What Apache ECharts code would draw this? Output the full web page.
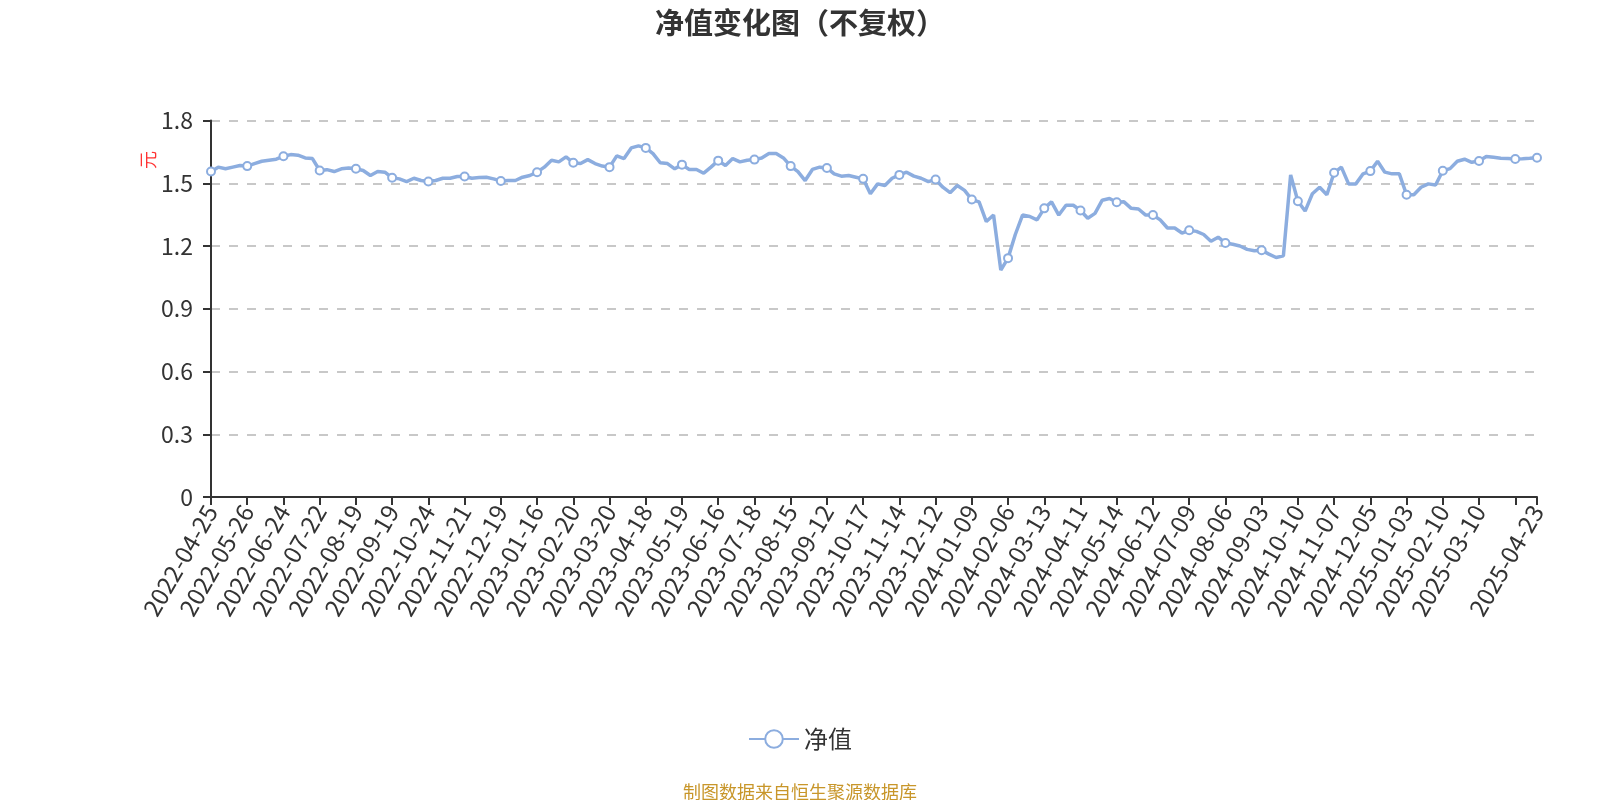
<!DOCTYPE html>
<html>
<head>
<meta charset="utf-8">
<script src="https://cdn.jsdelivr.net/npm/echarts@6/dist/echarts.min.js"></script>
<style>
html,body{margin:0;padding:0;background:#fff;}
#chart{width:1600px;height:800px;}
</style>
</head>
<body>
<div id="chart"></div>
<script>
const titleText = '净值变化图（不复权）';
const sourceText = '制图数据来自恒生聚源数据库';
const seriesName = '净值';
const yUnit = '元';

const dates = [
 '2022-04-25','2022-04-29','2022-05-10','2022-05-16','2022-05-20',
 '2022-05-26','2022-06-01','2022-06-09','2022-06-15','2022-06-20',
 '2022-06-24','2022-06-30','2022-07-06','2022-07-12','2022-07-18',
 '2022-07-22','2022-07-28','2022-08-03','2022-08-09','2022-08-15',
 '2022-08-19','2022-08-25','2022-08-31','2022-09-06','2022-09-13',
 '2022-09-19','2022-09-23','2022-09-29','2022-10-13','2022-10-18',
 '2022-10-24','2022-10-28','2022-11-03','2022-11-09','2022-11-15',
 '2022-11-21','2022-11-25','2022-12-01','2022-12-07','2022-12-13',
 '2022-12-19','2022-12-23','2022-12-29','2023-01-05','2023-01-11',
 '2023-01-16','2023-01-20','2023-02-02','2023-02-08','2023-02-14',
 '2023-02-20','2023-02-24','2023-03-02','2023-03-08','2023-03-14',
 '2023-03-20','2023-03-24','2023-03-30','2023-04-06','2023-04-12',
 '2023-04-18','2023-04-24','2023-04-28','2023-05-09','2023-05-15',
 '2023-05-19','2023-05-25','2023-05-31','2023-06-06','2023-06-12',
 '2023-06-16','2023-06-26','2023-06-30','2023-07-06','2023-07-12',
 '2023-07-18','2023-07-24','2023-07-28','2023-08-03','2023-08-09',
 '2023-08-15','2023-08-21','2023-08-25','2023-08-31','2023-09-06',
 '2023-09-12','2023-09-18','2023-09-22','2023-10-09','2023-10-13',
 '2023-10-17','2023-10-23','2023-10-27','2023-11-02','2023-11-08',
 '2023-11-14','2023-11-20','2023-11-24','2023-11-30','2023-12-06',
 '2023-12-12','2023-12-18','2023-12-22','2023-12-28','2024-01-04',
 '2024-01-09','2024-01-15','2024-01-19','2024-01-29','2024-02-05',
 '2024-02-06','2024-02-19','2024-02-23','2024-02-29','2024-03-06',
 '2024-03-13','2024-03-19','2024-03-25','2024-03-29','2024-04-08',
 '2024-04-11','2024-04-17','2024-04-23','2024-04-29','2024-05-08',
 '2024-05-14','2024-05-20','2024-05-24','2024-05-30','2024-06-05',
 '2024-06-12','2024-06-18','2024-06-24','2024-06-28','2024-07-04',
 '2024-07-09','2024-07-15','2024-07-19','2024-07-25','2024-07-31',
 '2024-08-06','2024-08-12','2024-08-16','2024-08-22','2024-08-28',
 '2024-09-03','2024-09-09','2024-09-13','2024-09-24','2024-10-08',
 '2024-10-10','2024-10-16','2024-10-22','2024-10-28','2024-11-01',
 '2024-11-07','2024-11-13','2024-11-19','2024-11-25','2024-11-29',
 '2024-12-05','2024-12-11','2024-12-17','2024-12-23','2024-12-27',
 '2025-01-03','2025-01-09','2025-01-15','2025-01-21','2025-01-27',
 '2025-02-10','2025-02-14','2025-02-20','2025-02-26','2025-03-04',
 '2025-03-10','2025-03-14','2025-03-20','2025-03-26','2025-04-01',
 '2025-04-08','2025-04-14','2025-04-18','2025-04-23'
];

const navValues = [
 1.556,1.577,1.569,1.577,1.585,
 1.582,1.594,1.605,1.610,1.615,
 1.629,1.637,1.634,1.621,1.618,
 1.561,1.565,1.556,1.569,1.573,
 1.569,1.561,1.537,1.556,1.553,
 1.526,1.521,1.508,1.524,1.513,
 1.508,1.513,1.524,1.524,1.532,
 1.532,1.524,1.527,1.529,1.521,
 1.511,1.513,1.513,1.529,1.537,
 1.553,1.577,1.610,1.602,1.626,
 1.598,1.594,1.613,1.594,1.582,
 1.577,1.631,1.618,1.669,1.679,
 1.669,1.642,1.598,1.594,1.569,
 1.589,1.566,1.566,1.548,1.577,
 1.608,1.585,1.618,1.602,1.610,
 1.613,1.621,1.642,1.642,1.621,
 1.582,1.556,1.513,1.566,1.577,
 1.573,1.545,1.534,1.537,1.529,
 1.521,1.450,1.497,1.489,1.524,
 1.540,1.553,1.534,1.524,1.508,
 1.518,1.481,1.455,1.489,1.466,
 1.422,1.411,1.317,1.348,1.085,
 1.142,1.255,1.348,1.341,1.325,
 1.380,1.411,1.348,1.395,1.395,
 1.370,1.333,1.356,1.419,1.427,
 1.409,1.411,1.380,1.377,1.348,
 1.348,1.325,1.286,1.286,1.262,
 1.275,1.270,1.255,1.223,1.242,
 1.214,1.208,1.200,1.184,1.177,
 1.180,1.161,1.145,1.153,1.540,
 1.414,1.367,1.450,1.481,1.445,
 1.550,1.577,1.497,1.497,1.545,
 1.558,1.605,1.553,1.545,1.545,
 1.445,1.445,1.481,1.497,1.492,
 1.560,1.570,1.605,1.615,1.600,
 1.606,1.628,1.624,1.620,1.618,
 1.616,1.617,1.619,1.622
];

const yMin = 0, yMax = 1.8, yStep = 0.3;
const lineColor = '#8caddf';
const lastIdx = dates.length - 1;
const showLabel = (i) => (i % 5 === 0 && i !== 180) || i === lastIdx;
const showTick = (i) => i % 5 === 0 || i === lastIdx;

const seriesData = navValues.map((v, i) => showTick(i) ? v : { value: v, symbol: 'none' });

const chart = echarts.init(document.getElementById('chart'));
chart.setOption({
  animation: false,
  textStyle: { fontFamily: 'Noto Sans CJK SC, Noto Sans, sans-serif' },
  title: [
    { text: titleText, left: 'center', top: 3,
      textStyle: { fontSize: 29, fontWeight: 'bold', color: '#333' } },
    { text: sourceText, left: 'center', top: 778,
      textStyle: { fontSize: 18, fontWeight: 'normal', color: '#c8962a' } }
  ],
  legend: {
    data: [seriesName], left: 'center', top: 722,
    itemWidth: 50, itemHeight: 22,
    textStyle: { fontSize: 24, color: '#333' }
  },
  grid: { left: 211, right: 63, top: 120.5, bottom: 303, containLabel: false },
  xAxis: {
    type: 'category', data: dates, boundaryGap: false,
    axisLine: { lineStyle: { color: '#333', width: 2 } },
    axisTick: { interval: (i) => showTick(i), length: 8, lineStyle: { color: '#333', width: 2 } },
    axisLabel: { interval: (i) => showLabel(i), rotate: 60, fontSize: 24, color: '#333', margin: 10 }
  },
  yAxis: {
    type: 'value', min: yMin, max: yMax, interval: yStep,
    axisLine: { show: true, lineStyle: { color: '#333', width: 2 } },
    axisTick: { show: true, length: 8, lineStyle: { color: '#333', width: 2 } },
    axisLabel: { fontSize: 23, color: '#333', margin: 18 },
    splitLine: { lineStyle: { color: '#c8c8c8', width: 2, type: [9, 9] } }
  },
  graphic: [
    { type: 'text', x: 148, y: 160, rotation: Math.PI / 2,
      style: { text: yUnit, fill: '#ff3333', fontSize: 18, align: 'center', verticalAlign: 'middle',
               fontFamily: 'Noto Sans CJK SC' } }
  ],
  series: [{
    name: seriesName, type: 'line', data: seriesData,
    showAllSymbol: true, symbol: 'emptyCircle', symbolSize: 8,
    itemStyle: { color: lineColor, borderWidth: 2 },
    lineStyle: { color: lineColor, width: 3.5 }
  }]
});
</script>
</body>
</html>
